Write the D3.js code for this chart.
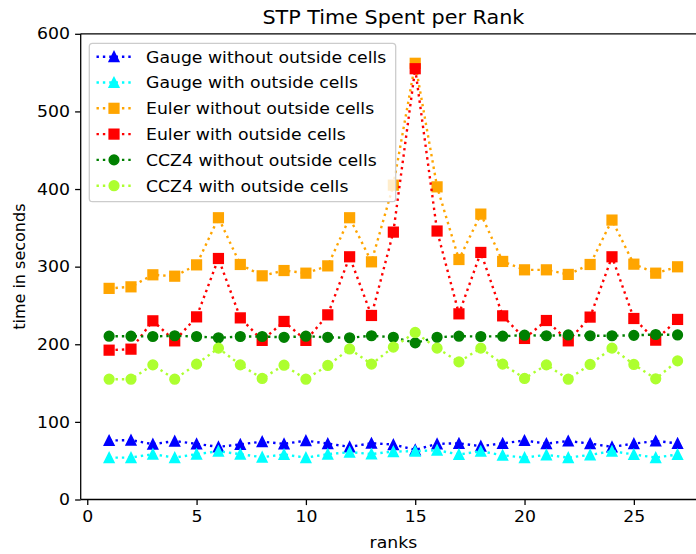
<!DOCTYPE html>
<html>
<head>
<meta charset="utf-8">
<script src="https://cdn.jsdelivr.net/npm/d3@7"></script>
<style>
  html, body { margin: 0; padding: 0; background: #fff; }
  svg { display: block; font-family: "DejaVu Sans", sans-serif; }
</style>
</head>
<body>
<svg id="chart" width="696" height="554"></svg>
<script>
// Per-rank STP timings (seconds)
const ranks = [1,2,3,4,5,6,7,8,9,10,11,12,13,14,15,16,17,18,19,20,21,22,23,24,25,26,27];
const gaugeWithout = [76,76.5,71.3,75.3,71.7,67.8,71,74.6,71.7,75.8,72,67.8,72.5,70.8,64,71.7,72.4,68.7,72.4,76,72,75.4,72,67.8,72,75.4,72.4];
const gaugeWith = [54,54,58.4,54,58.4,62.2,58.4,54.5,58,54,58.4,61,58.6,61.8,62.2,63.5,58,62.2,57,54,57.5,54,57.5,62.2,58,54,58];
const eulerWithout = [272,274,289.5,287.7,302.3,363,302.8,288.2,295,291.6,301,363,306.2,405,562,402.8,309.2,367.7,306.7,295.9,295.9,290,302.8,360,303.2,291.6,299.8];
const eulerWith = [192.4,193.7,230.2,204.4,235.3,310.5,234,205,229.4,205,237.9,312.7,237.1,344.5,555,345.9,239.2,318.3,236.6,207.5,230.6,204.4,235,312.7,233.2,205.3,232];
const ccz4Without = [210.4,210.4,210,211,210,208.3,210,210,209,210.4,209,208.3,211,209,201.8,209,210.4,210,210.4,211.7,211,212,211,211,211.5,212.6,212];
const ccz4With = [155,155,173.5,155,174.4,195,173.5,156,173,155,172.7,194,174.4,196.3,215.2,195,177.3,195,174.4,156,173.5,155,174,195,174,155.5,178.6];

const seriesNames = ["Gauge without outside cells","Gauge with outside cells","Euler without outside cells","Euler with outside cells","CCZ4 without outside cells","CCZ4 with outside cells"];
const seriesColors = ["#0000ff","#00ffff","#ffa500","#ff0000","#008000","#adff2f"];
const seriesMarkers = ["triangle","triangle","square","square","circle","circle"];
const seriesValues = [gaugeWithout, gaugeWith, eulerWithout, eulerWith, ccz4Without, ccz4With];

const xTicks = [0,5,10,15,20,25];
const yTicks = [0,100,200,300,400,500,600];

const svg = d3.select("#chart");
const plotLeft = 80.7, plotRight = 706, plotTop = 33.8, plotBottom = 499.5;
const textStretch = 1.08;   // glyphs are drawn slightly wide

const x = d3.scaleLinear().domain([-0.3, 28.3]).range([plotLeft, plotRight]);
const y = d3.scaleLinear().domain([0, 600]).range([plotBottom, plotTop]);

const markerSize = 9.6;

function drawMarker(g, kind, cx, cy, color) {
  const s = markerSize;
  if (kind === "square") {
    g.append("rect").attr("x", cx - s/2).attr("y", cy - s/2).attr("width", s).attr("height", s)
      .attr("fill", color).attr("stroke", color).attr("stroke-width", 1.6);
  } else if (kind === "circle") {
    g.append("circle").attr("cx", cx).attr("cy", cy).attr("r", s/2)
      .attr("fill", color).attr("stroke", color).attr("stroke-width", 1.6);
  } else {
    const p = `M${cx},${cy - s/2}L${cx - s/2},${cy + s/2}L${cx + s/2},${cy + s/2}Z`;
    g.append("path").attr("d", p)
      .attr("fill", color).attr("stroke", color).attr("stroke-width", 1.6).attr("stroke-linejoin", "miter");
  }
}

// text placed at (tx, ty) and widened horizontally around that point
function addText(parent, tx, ty, str, size, anchor, rotate) {
  const rot = rotate ? ` rotate(${rotate})` : "";
  return parent.append("text")
    .attr("transform", `translate(${tx},${ty})${rot} scale(${textStretch},1)`)
    .attr("text-anchor", anchor || "start")
    .attr("font-size", size)
    .attr("fill", "#000")
    .text(str);
}

// clip to the axes area
svg.append("defs").append("clipPath").attr("id", "plotclip")
  .append("rect").attr("x", plotLeft).attr("y", plotTop).attr("width", plotRight - plotLeft).attr("height", plotBottom - plotTop);

const plot = svg.append("g").attr("clip-path", "url(#plotclip)");

const line = d3.line().x((d, i) => x(ranks[i])).y(d => y(d));

seriesValues.forEach((vals, k) => {
  const g = plot.append("g");
  g.append("path").datum(vals).attr("d", line)
    .attr("fill", "none").attr("stroke", seriesColors[k])
    .attr("stroke-width", 2.4).attr("stroke-dasharray", "2.4,3.96");
  vals.forEach((v, i) => drawMarker(g, seriesMarkers[k], x(ranks[i]), y(v), seriesColors[k]));
});

// axes
const xAxis = d3.axisBottom(x).tickValues(xTicks).tickSize(5.6).tickPadding(5.2);
const yAxis = d3.axisLeft(y).tickValues(yTicks).tickSize(5.6).tickPadding(5.2);

const gx = svg.append("g").attr("transform", `translate(0,${plotBottom})`).call(xAxis);
const gy = svg.append("g").attr("transform", `translate(${plotLeft},0)`).call(yAxis);
[gx, gy].forEach(g => {
  g.select(".domain").remove();
  g.selectAll("line").attr("stroke", "#000").attr("stroke-width", 1.28);
  g.selectAll("text").attr("fill", "#000").attr("font-size", 16).attr("font-family", "DejaVu Sans")
    .each(function() {
      const t = d3.select(this);
      const tx = +t.attr("x") || 0;
      t.attr("x", tx / textStretch).attr("transform", `scale(${textStretch},1)`);
    });
});

// spines
svg.append("line").attr("x1", plotLeft).attr("x2", plotRight).attr("y1", plotBottom).attr("y2", plotBottom).attr("stroke", "#000").attr("stroke-width", 1.28);
svg.append("line").attr("x1", plotLeft).attr("x2", plotRight).attr("y1", plotTop).attr("y2", plotTop).attr("stroke", "#000").attr("stroke-width", 1.28);
svg.append("line").attr("x1", plotLeft).attr("x2", plotLeft).attr("y1", plotTop).attr("y2", plotBottom).attr("stroke", "#000").attr("stroke-width", 1.28);

// title and axis labels
addText(svg, (plotLeft + plotRight) / 2, 24, "STP Time Spent per Rank", 19.2, "middle");
addText(svg, (plotLeft + plotRight) / 2, 548, "ranks", 16, "middle");
svg.append("text")
  .attr("transform", `translate(25,${(plotTop + plotBottom) / 2}) rotate(-90) scale(1,1)`)
  .attr("text-anchor", "middle").attr("font-size", 16).attr("fill", "#000").text("time in seconds");

// legend
const lg = svg.append("g");
lg.append("rect").attr("x", 89.3).attr("y", 43.3).attr("width", 306.4).attr("height", 158.4)
  .attr("rx", 3.2).attr("fill", "#fff").attr("fill-opacity", 0.8)
  .attr("stroke", "#cccccc").attr("stroke-width", 1.28);
seriesNames.forEach((name, k) => {
  const cy = 56.7 + k * 25.8;
  lg.append("line").attr("x1", 96.5).attr("x2", 131.5).attr("y1", cy).attr("y2", cy)
    .attr("stroke", seriesColors[k]).attr("stroke-width", 2.4).attr("stroke-dasharray", "2.4,3.96");
  drawMarker(lg, seriesMarkers[k], 114, cy, seriesColors[k]);
  addText(lg, 146, cy + 5.8, name, 16, "start");
});
</script>
</body>
</html>
